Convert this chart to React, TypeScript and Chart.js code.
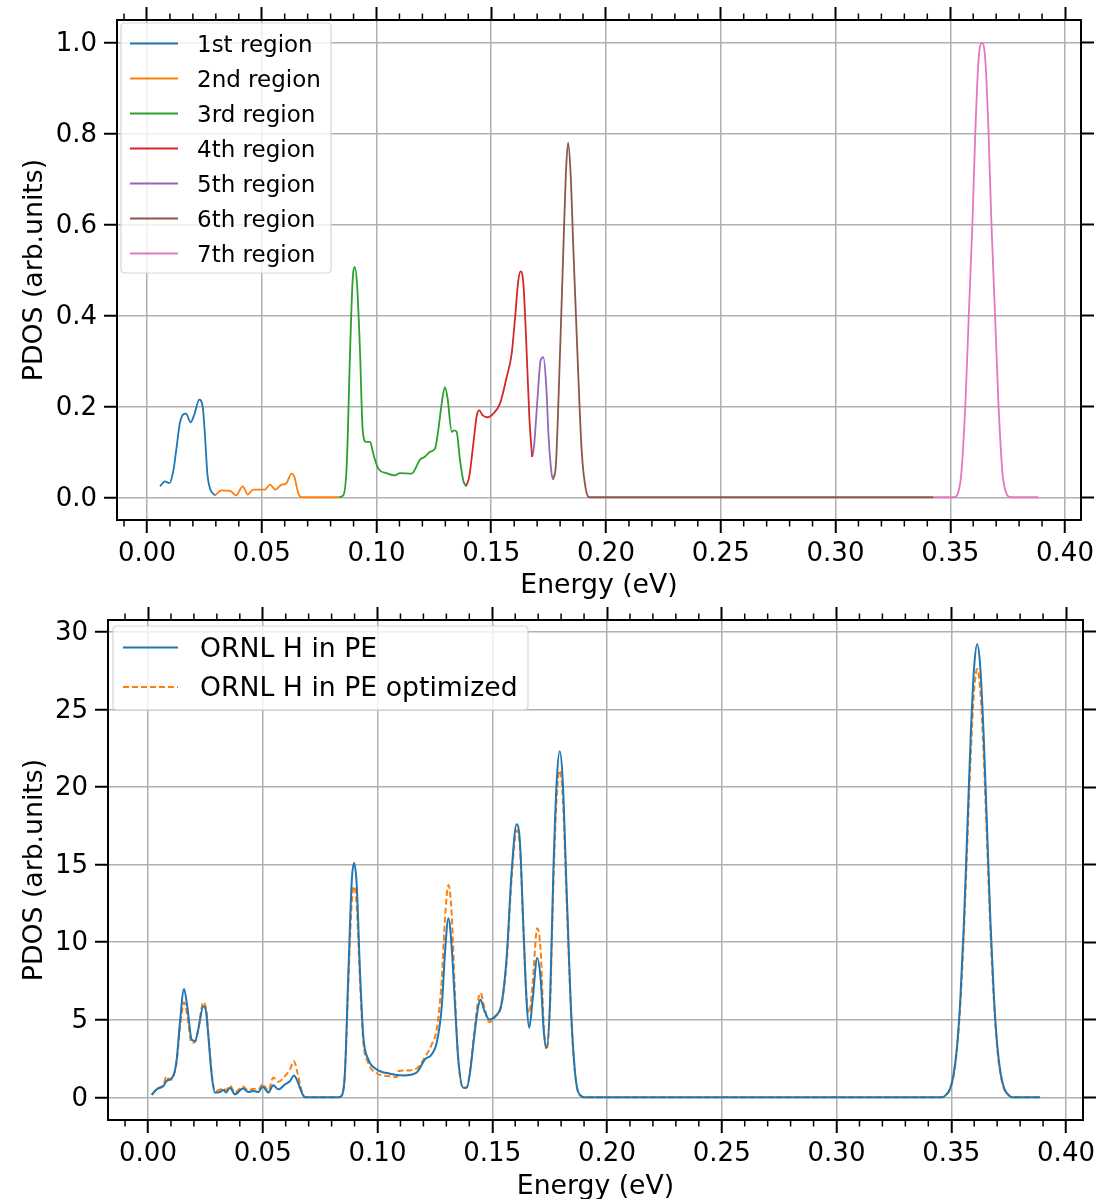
import React, { useEffect, useRef } from "react";
import { Chart, registerables } from "chart.js";

Chart.register(...registerables);

type Pt = [number, number];

const FONT = "'DejaVu Sans', 'Liberation Sans', sans-serif";

// ---------- axis ticks ----------
const X_TICKS = [0, 0.05, 0.1, 0.15, 0.2, 0.25, 0.3, 0.35, 0.4];
const TOP_Y_TICKS = [0, 0.2, 0.4, 0.6, 0.8, 1.0];
const BOTTOM_Y_TICKS = [0, 5, 10, 15, 20, 25, 30];

// ---------- top chart: regions ----------
const REGION_LABELS = [
  "1st region",
  "2nd region",
  "3rd region",
  "4th region",
  "5th region",
  "6th region",
  "7th region",
];
const REGION_COLORS = ["#1f77b4", "#ff7f0e", "#2ca02c", "#d62728", "#9467bd", "#8c564b", "#e377c2"];

const REGION1: Pt[] = [
  [0.0057, 0.024], [0.0078, 0.035], [0.0097, 0.031], [0.0115, 0.059], [0.0129, 0.11],
  [0.0144, 0.165], [0.017, 0.184], [0.019, 0.165], [0.0205, 0.18], [0.0228, 0.215],
  [0.0243, 0.198], [0.0253, 0.133], [0.0263, 0.052], [0.0275, 0.019], [0.0296, 0.004],
];
const REGION2: Pt[] = [
  [0.0296, 0.004], [0.0325, 0.015], [0.0362, 0.014], [0.0388, 0.004], [0.0417, 0.024],
  [0.0439, 0.006], [0.0463, 0.017], [0.0514, 0.017], [0.0536, 0.028], [0.0558, 0.017],
  [0.0587, 0.028], [0.0606, 0.03], [0.063, 0.052], [0.0642, 0.045], [0.066, 0.008],
  [0.0674, 0.0], [0.0835, 0.0],
];
const REGION3: Pt[] = [
  [0.0835, 0.0], [0.0855, 0.004], [0.087, 0.067], [0.0885, 0.323], [0.0896, 0.477],
  [0.0906, 0.506], [0.0916, 0.462], [0.0928, 0.323], [0.094, 0.147], [0.0954, 0.122],
  [0.0972, 0.122], [0.0986, 0.096], [0.1008, 0.063], [0.1044, 0.053], [0.108, 0.048],
  [0.1102, 0.053], [0.1153, 0.052], [0.119, 0.083], [0.1211, 0.089], [0.1233, 0.1],
  [0.1255, 0.107], [0.1269, 0.147], [0.1284, 0.206], [0.1298, 0.242], [0.1309, 0.22],
  [0.1328, 0.144], [0.1338, 0.147], [0.1349, 0.144], [0.1364, 0.081], [0.1378, 0.037],
  [0.139, 0.024],
];
const REGION4: Pt[] = [
  [0.139, 0.024], [0.1404, 0.045], [0.1422, 0.118], [0.1437, 0.18], [0.1448, 0.191],
  [0.1463, 0.18], [0.1483, 0.176], [0.1509, 0.184], [0.1538, 0.206], [0.1567, 0.264],
  [0.1589, 0.316], [0.1604, 0.396], [0.1618, 0.477], [0.1628, 0.497], [0.164, 0.47],
  [0.1654, 0.323], [0.1666, 0.176], [0.1678, 0.089],
];
const REGION5: Pt[] = [
  [0.1678, 0.089], [0.1686, 0.11], [0.1701, 0.213], [0.1715, 0.301], [0.1727, 0.308],
  [0.1739, 0.25], [0.175, 0.132], [0.1763, 0.052], [0.177, 0.039],
];
const REGION6: Pt[] = [
  [0.177, 0.039], [0.1782, 0.074], [0.18, 0.323], [0.1814, 0.543], [0.1825, 0.71],
  [0.1835, 0.78], [0.1846, 0.71], [0.1858, 0.543], [0.1875, 0.323], [0.1894, 0.103],
  [0.1913, 0.015], [0.193, 0.0], [0.3426, 0.0],
];
const REGION7: Pt[] = [
  [0.3426, 0.0], [0.3515, 0.0], [0.3545, 0.037], [0.3566, 0.206], [0.3581, 0.404],
  [0.3597, 0.609], [0.3609, 0.8], [0.3623, 0.96], [0.3638, 1.0], [0.3653, 0.96],
  [0.3667, 0.8], [0.3679, 0.609], [0.3695, 0.404], [0.371, 0.206], [0.3731, 0.037],
  [0.3765, 0.0], [0.3884, 0.0],
];
const REGIONS = [REGION1, REGION2, REGION3, REGION4, REGION5, REGION6, REGION7];

// ---------- bottom chart ----------
const BOTTOM_LABELS = ["ORNL H in PE", "ORNL H in PE optimized"];
const BOTTOM_COLORS = ["#1f77b4", "#ff7f0e"];

const ORNL: Pt[] = [
  [0.0016, 0.15], [0.0038, 0.51], [0.0067, 0.73], [0.0081, 1.05], [0.011, 1.37],
  [0.0125, 2.44], [0.0139, 4.8], [0.0157, 6.98], [0.0171, 5.86], [0.019, 3.73],
  [0.0205, 3.62], [0.0219, 4.37], [0.0241, 5.86], [0.0253, 5.54], [0.0263, 3.94],
  [0.0278, 1.37], [0.0292, 0.3], [0.0314, 0.34], [0.0328, 0.47], [0.034, 0.3],
  [0.0357, 0.62], [0.0379, 0.19], [0.0413, 0.56], [0.0437, 0.34], [0.0459, 0.4],
  [0.0481, 0.34], [0.05, 0.69], [0.0524, 0.3], [0.0546, 0.77], [0.0568, 0.51],
  [0.0597, 0.83], [0.0619, 1.05], [0.0636, 1.41], [0.0651, 1.05], [0.067, 0.3],
  [0.0684, 0.0], [0.083, 0.0], [0.0844, 0.1], [0.0858, 1.59], [0.0873, 8.0],
  [0.0888, 14.0], [0.0898, 15.1], [0.0909, 13.79], [0.0924, 8.0], [0.0938, 3.94],
  [0.096, 2.44], [0.0996, 1.8], [0.1054, 1.52], [0.1112, 1.41], [0.117, 1.59],
  [0.1207, 2.44], [0.1236, 2.76], [0.1258, 3.51], [0.128, 5.86], [0.1294, 9.29],
  [0.1309, 11.54], [0.1323, 9.72], [0.1338, 5.86], [0.1352, 2.44], [0.1374, 0.62],
  [0.1389, 0.62], [0.1403, 1.59], [0.142, 3.73], [0.1439, 5.86], [0.1449, 6.29],
  [0.1464, 5.65], [0.1487, 5.01], [0.1512, 5.22], [0.1541, 6.08], [0.1563, 9.08],
  [0.1584, 14.43], [0.1606, 17.6], [0.1621, 16.36], [0.1635, 11.22], [0.165, 6.08],
  [0.1661, 4.48], [0.1676, 6.29], [0.1696, 8.97], [0.1711, 7.58], [0.1725, 4.16],
  [0.1737, 3.19], [0.1752, 6.29], [0.1766, 14.43], [0.1781, 20.42], [0.1794, 22.3],
  [0.1807, 20.42], [0.1824, 13.36], [0.1846, 4.8], [0.1868, 0.73], [0.189, 0.05],
  [0.19, 0.0], [0.346, 0.0], [0.348, 0.2], [0.3495, 0.56], [0.351, 1.45],
  [0.3525, 3.25], [0.354, 6.45], [0.3555, 11.2], [0.357, 17.3], [0.3585, 23.4],
  [0.36, 27.8], [0.3613, 29.2], [0.3626, 27.8], [0.3641, 23.4], [0.3656, 17.3],
  [0.3671, 11.2], [0.3686, 6.45], [0.3701, 3.25], [0.3716, 1.45], [0.3731, 0.56],
  [0.3746, 0.2], [0.3766, 0.0], [0.3887, 0.0],
];

const ORNL_OPT: Pt[] = [
  [0.0016, 0.15], [0.0038, 0.55], [0.0067, 0.8], [0.0081, 1.35], [0.0095, 1.1],
  [0.011, 1.35], [0.0125, 2.3], [0.0139, 4.4], [0.0157, 6.12], [0.0171, 5.3],
  [0.019, 3.51], [0.0205, 3.55], [0.0219, 4.4], [0.0241, 6.12], [0.0253, 5.7],
  [0.0263, 4.1], [0.0278, 1.5], [0.0292, 0.4], [0.0314, 0.5], [0.0328, 0.6],
  [0.034, 0.45], [0.0357, 0.75], [0.0379, 0.3], [0.0413, 0.7], [0.0437, 0.45],
  [0.0459, 0.55], [0.0481, 0.5], [0.05, 0.85], [0.0524, 0.4], [0.0546, 1.27],
  [0.0568, 1.0], [0.0597, 1.37], [0.0619, 1.8], [0.0636, 2.33], [0.0651, 1.6],
  [0.067, 0.4], [0.0684, 0.0], [0.083, 0.0], [0.0844, 0.1], [0.0858, 1.5],
  [0.0873, 7.4], [0.0888, 12.6], [0.0898, 13.6], [0.0909, 12.4], [0.0924, 7.4],
  [0.0938, 3.6], [0.096, 2.2], [0.0996, 1.55], [0.1054, 1.35], [0.1085, 1.3],
  [0.1092, 1.7], [0.1112, 1.72], [0.117, 1.85], [0.1207, 2.6], [0.1236, 3.4],
  [0.1258, 4.4], [0.128, 7.6], [0.1294, 11.5], [0.1309, 13.68], [0.1323, 11.86],
  [0.1338, 6.5], [0.1352, 2.4], [0.1374, 0.6], [0.1389, 0.65], [0.1403, 1.7],
  [0.142, 4.0], [0.1439, 6.3], [0.1449, 6.72], [0.1464, 5.9], [0.1487, 4.84],
  [0.1512, 5.15], [0.1541, 6.0], [0.1563, 8.8], [0.1584, 14.0], [0.1606, 17.21],
  [0.1621, 16.0], [0.1635, 11.0], [0.165, 6.3], [0.1661, 5.44], [0.1676, 7.4],
  [0.1696, 10.9], [0.1711, 9.4], [0.1725, 4.5], [0.1737, 3.08], [0.1752, 6.0],
  [0.1766, 13.6], [0.1781, 19.4], [0.1794, 21.07], [0.1807, 19.4], [0.1824, 12.7],
  [0.1846, 4.6], [0.1868, 0.7], [0.189, 0.05], [0.19, 0.0], [0.346, 0.0],
  [0.348, 0.19], [0.3495, 0.53], [0.351, 1.37], [0.3525, 3.07], [0.354, 6.1],
  [0.3555, 10.6], [0.357, 16.35], [0.3585, 22.1], [0.36, 26.3], [0.3613, 27.6],
  [0.3626, 26.3], [0.3641, 22.1], [0.3656, 16.35], [0.3671, 10.6], [0.3686, 6.1],
  [0.3701, 3.07], [0.3716, 1.37], [0.3731, 0.53], [0.3746, 0.19], [0.3766, 0.0],
  [0.3887, 0.0],
];
const BOTTOM_SERIES = [ORNL, ORNL_OPT];

// ---------- plugins ----------
const decorPlugin = {
  id: "decor",
  afterDraw(chart: any, _args: any, opts: any) {
    const ctx = chart.ctx;
    const area = chart.chartArea;
    const xs = chart.scales.x;
    ctx.save();
    // minor ticks on bottom and top edges
    ctx.strokeStyle = "#000";
    ctx.lineWidth = 1.5;
    for (let i = -2; i <= 41; i++) {
      if (i % 5 === 0) continue;
      const v = i / 100;
      const px = xs.getPixelForValue(v);
      if (px < area.left - 0.5 || px > area.right + 0.5) continue;
      ctx.beginPath();
      ctx.moveTo(px, area.bottom);
      ctx.lineTo(px, area.bottom + 6.5);
      ctx.moveTo(px, area.top);
      ctx.lineTo(px, area.top - 6.5);
      ctx.stroke();
    }
    // legend
    const lg = opts.legend;
    if (lg) {
      const [bx1, by1, bx2, by2] = lg.box;
      const r = 4;
      ctx.beginPath();
      ctx.moveTo(bx1 + r, by1);
      ctx.lineTo(bx2 - r, by1);
      ctx.quadraticCurveTo(bx2, by1, bx2, by1 + r);
      ctx.lineTo(bx2, by2 - r);
      ctx.quadraticCurveTo(bx2, by2, bx2 - r, by2);
      ctx.lineTo(bx1 + r, by2);
      ctx.quadraticCurveTo(bx1, by2, bx1, by2 - r);
      ctx.lineTo(bx1, by1 + r);
      ctx.quadraticCurveTo(bx1, by1, bx1 + r, by1);
      ctx.closePath();
      ctx.fillStyle = "rgba(255,255,255,0.8)";
      ctx.fill();
      ctx.strokeStyle = "rgba(204,204,204,0.8)";
      ctx.lineWidth = 1.2;
      ctx.stroke();
      chart.data.datasets.forEach((ds: any, i: number) => {
        const y = lg.rowY0 + i * lg.rowStep;
        ctx.beginPath();
        ctx.setLineDash(ds.borderDash || []);
        ctx.strokeStyle = ds.borderColor;
        ctx.lineWidth = ds.borderWidth;
        ctx.moveTo(lg.lineX[0], y);
        ctx.lineTo(lg.lineX[1], y);
        ctx.stroke();
        ctx.setLineDash([]);
        ctx.fillStyle = "#000";
        ctx.font = `${lg.fontSize}px ${FONT}`;
        ctx.textBaseline = "middle";
        ctx.textAlign = "left";
        ctx.fillText(ds.label, lg.textX, y + 2.5);
      });
    }
    ctx.restore();
  },
};

function makeScales(
  xMin: number,
  xMax: number,
  yMin: number,
  yMax: number,
  yTicks: number[],
  yDigits: number,
  dims: { left: number; right: number; top: number; bottom: number },
  titleBottomPad: number
) {
  const tickFont = { family: FONT, size: 26 };
  const titleFont = { family: FONT, size: 26.7, lineHeight: 1 };
  const gridMain = { color: "#b0b0b0", lineWidth: 1.5, tickColor: "#000", tickLength: 13, tickWidth: 2 };
  const gridSide = { drawOnChartArea: false, color: "#000", tickColor: "#000", tickLength: 13, tickWidth: 2 };
  const border = { color: "#000", width: 2 };
  const setX = (s: any) => {
    s.ticks = X_TICKS.map((v) => ({ value: v }));
  };
  const setY = (s: any) => {
    s.ticks = yTicks.map((v) => ({ value: v }));
  };
  return {
    x: {
      type: "linear",
      position: "bottom",
      min: xMin,
      max: xMax,
      afterBuildTicks: setX,
      ticks: {
        font: tickFont,
        color: "#000",
        padding: 6,
        maxRotation: 0,
        autoSkip: false,
        callback: (v: any) => Number(v).toFixed(2),
      },
      grid: gridMain,
      border,
      title: {
        display: true,
        text: "Energy (eV)",
        font: titleFont,
        color: "#000",
        padding: { top: 0, bottom: titleBottomPad },
      },
      afterFit: (s: any) => {
        s.height = dims.bottom;
        s.paddingLeft = 0;
        s.paddingRight = 0;
      },
    },
    xTop: {
      type: "linear",
      position: "top",
      min: xMin,
      max: xMax,
      afterBuildTicks: setX,
      ticks: { display: false },
      grid: gridSide,
      border,
      afterFit: (s: any) => {
        s.height = dims.top;
        s.paddingLeft = 0;
        s.paddingRight = 0;
      },
    },
    y: {
      type: "linear",
      position: "left",
      min: yMin,
      max: yMax,
      afterBuildTicks: setY,
      ticks: {
        font: tickFont,
        color: "#000",
        padding: 7,
        labelOffset: 1.5,
        autoSkip: false,
        callback: (v: any) => Number(v).toFixed(yDigits),
      },
      grid: gridMain,
      border,
      title: {
        display: true,
        text: "PDOS (arb.units)",
        font: titleFont,
        color: "#000",
        padding: { top: 22, bottom: 0 },
      },
      afterFit: (s: any) => {
        s.width = dims.left;
        s.paddingTop = 0;
        s.paddingBottom = 0;
      },
    },
    yRight: {
      type: "linear",
      position: "right",
      min: yMin,
      max: yMax,
      afterBuildTicks: setY,
      ticks: { display: false },
      grid: gridSide,
      border,
      afterFit: (s: any) => {
        s.width = dims.right;
        s.paddingTop = 0;
        s.paddingBottom = 0;
      },
    },
  };
}

function TopChart() {
  const ref = useRef<HTMLCanvasElement>(null);
  useEffect(() => {
    if (!ref.current) return;
    const chart = new Chart(ref.current, {
      type: "line",
      data: {
        datasets: REGIONS.map((pts, i) => ({
          label: REGION_LABELS[i],
          data: pts.map(([x, y]) => ({ x, y })),
          borderColor: REGION_COLORS[i],
          backgroundColor: REGION_COLORS[i],
          borderWidth: 1.8,
          pointRadius: 0,
          fill: false,
          cubicInterpolationMode: "monotone",
          xAxisID: "x",
          yAxisID: "y",
        })),
      },
      options: {
        animation: false,
        responsive: false,
        devicePixelRatio: 1,
        layout: { padding: 0 },
        plugins: {
          legend: { display: false },
          tooltip: { enabled: false },
          decor: {
            legend: {
              box: [121, 23, 331, 273],
              lineX: [130, 178],
              textX: 197,
              rowY0: 43.5,
              rowStep: 35,
              fontSize: 23,
            },
          },
        } as any,
        scales: makeScales(-0.01307, 0.40697, -0.05, 1.05, TOP_Y_TICKS, 1, { left: 117, right: 18, top: 20, bottom: 80 }, 0.7) as any,
      },
      plugins: [decorPlugin as any],
    });
    return () => chart.destroy();
  }, []);
  return <canvas ref={ref} width={1099} height={600} style={{ display: "block", width: 1099, height: 600 }} />;
}

function BottomChart() {
  const ref = useRef<HTMLCanvasElement>(null);
  useEffect(() => {
    if (!ref.current) return;
    const chart = new Chart(ref.current, {
      type: "line",
      data: {
        datasets: BOTTOM_SERIES.map((pts, i) => ({
          label: BOTTOM_LABELS[i],
          data: pts.map(([x, y]) => ({ x, y })),
          borderColor: BOTTOM_COLORS[i],
          backgroundColor: BOTTOM_COLORS[i],
          borderWidth: 2,
          borderDash: i === 1 ? [6, 3] : [],
          pointRadius: 0,
          fill: false,
          cubicInterpolationMode: "monotone",
          xAxisID: "x",
          yAxisID: "y",
        })),
      },
      options: {
        animation: false,
        responsive: false,
        devicePixelRatio: 1,
        layout: { padding: 0 },
        plugins: {
          legend: { display: false },
          tooltip: { enabled: false },
          decor: {
            legend: {
              box: [113, 26, 528, 110],
              lineX: [123, 178],
              textX: 200,
              rowY0: 47.5,
              rowStep: 39.5,
              fontSize: 26.7,
            },
          },
        } as any,
        scales: makeScales(-0.01743, 0.4074, -1.465, 30.765, BOTTOM_Y_TICKS, 0, { left: 108, right: 16, top: 20, bottom: 79 }, -1.5) as any,
      },
      plugins: [decorPlugin as any],
    });
    return () => chart.destroy();
  }, []);
  return <canvas ref={ref} width={1099} height={599} style={{ display: "block", width: 1099, height: 599 }} />;
}

export default function App() {
  return (
    <div style={{ position: "absolute", left: 0, top: 0, width: 1099, height: 1199, background: "#fff" }}>
      <TopChart />
      <BottomChart />
    </div>
  );
}
